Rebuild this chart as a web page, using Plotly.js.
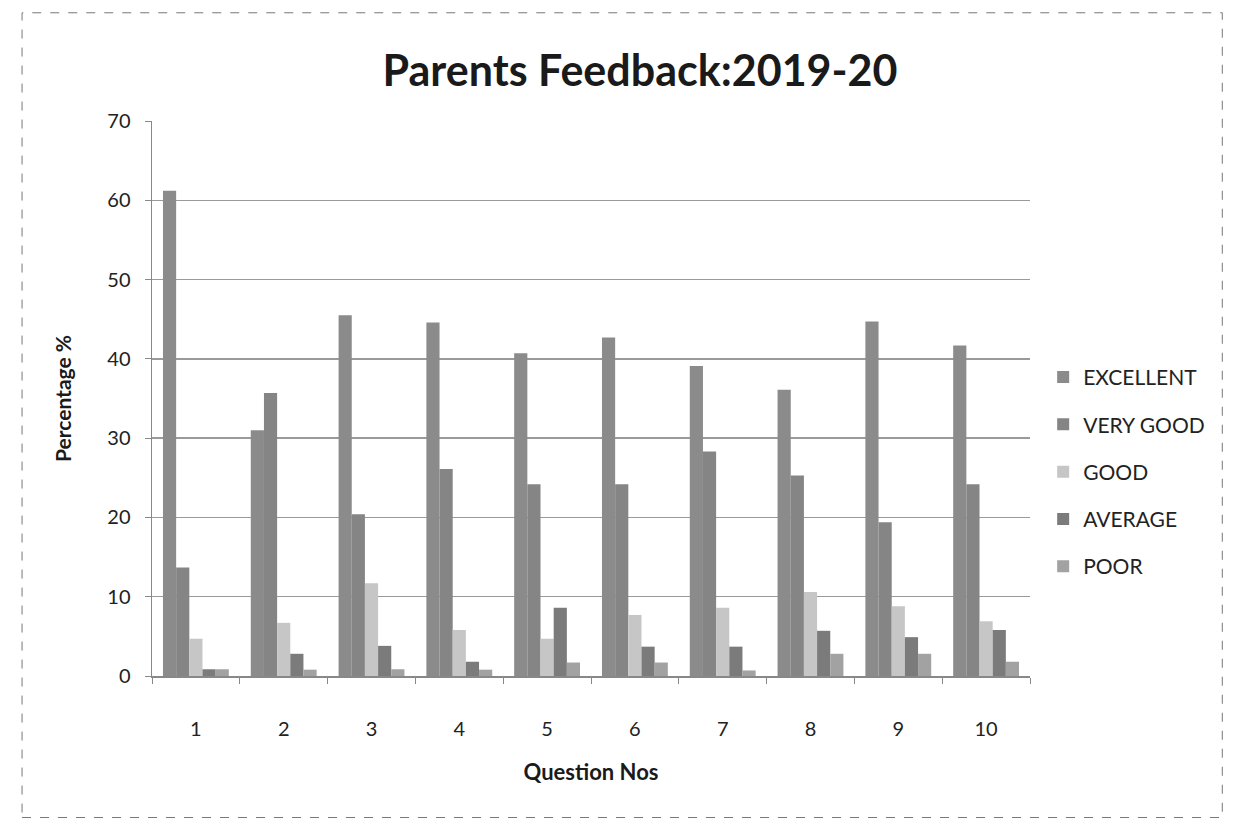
<!DOCTYPE html>
<html>
<head>
<meta charset="utf-8">
<script src="https://cdn.plot.ly/plotly-3.0.1.min.js"></script>
<style>html,body{margin:0;padding:0;background:#fff;}#chart{width:1250px;height:834px;}</style>
</head>
<body>
<div id="chart"></div>
<script>
const questions = ['1','2','3','4','5','6','7','8','9','10'];
const seriesNames = ['EXCELLENT','VERY GOOD','GOOD','AVERAGE','POOR'];
const excellent = [61.2, 31.0, 45.5, 44.6, 40.7, 42.7, 39.1, 36.1, 44.7, 41.7];
const veryGood  = [13.7, 35.7, 20.4, 26.1, 24.2, 24.2, 28.3, 25.3, 19.4, 24.2];
const good      = [4.7, 6.7, 11.7, 5.8, 4.7, 7.7, 8.6, 10.6, 8.8, 6.9];
const average   = [0.85, 2.8, 3.8, 1.8, 8.6, 3.7, 3.7, 5.7, 4.9, 5.8];
const poor      = [0.85, 0.8, 0.85, 0.8, 1.7, 1.7, 0.7, 2.8, 2.8, 1.8];
const seriesValues = [excellent, veryGood, good, average, poor];
const colors = ['#8b8b8b', '#858585', '#c6c6c6', '#7b7b7b', '#a2a2a2'];

const font = 'Lato, "Open Sans", sans-serif';
const traces = seriesNames.map((name, i) => ({
  type: 'bar',
  name: name,
  x: questions,
  y: seriesValues[i],
  marker: {color: colors[i], line: {width: 0}},
  legendgroup: 'g' + i,
  hoverinfo: 'x+y+name'
}));

const layout = {
  width: 1250, height: 834,
  paper_bgcolor: '#ffffff', plot_bgcolor: '#ffffff',
  margin: {l: 152, r: 220, t: 121, b: 158},
  barmode: 'group', bargap: 0.25, bargroupgap: 0,
  title: {text: 'Parents Feedback:2019-20', font: {family: font, size: 43, color: '#1a1a1a', weight: 700}, x: 0.512, xanchor: 'center', y: 0.915, yanchor: 'middle'},
  xaxis: {
    type: 'category',
    title: {text: 'Question Nos', font: {family: font, size: 22, color: '#1a1a1a', weight: 700}, standoff: 26},
    tickfont: {family: font, size: 20, color: '#222'},
    ticks: 'outside', tickson: 'boundaries', ticklen: 6, tickcolor: '#888',
    ticklabelstandoff: 34,
    showline: true, linecolor: '#888', linewidth: 1.5,
    showgrid: false, zeroline: false, automargin: false
  },
  yaxis: {
    range: [0, 70], dtick: 10,
    title: {text: 'Percentage %', font: {family: font, size: 21, color: '#1a1a1a', weight: 700}, standoff: 30},
    tickfont: {family: font, size: 20, color: '#222'},
    ticks: 'outside', ticklen: 6, tickcolor: '#888', ticklabelstandoff: 10,
    showline: true, linecolor: '#888', linewidth: 1.5,
    showgrid: true, gridcolor: '#9a9a9a', gridwidth: 1.5,
    zeroline: false, automargin: false
  },
  legend: {
    x: 1.015, xanchor: 'left', y: 0.575, yanchor: 'top',
    font: {family: font, size: 21, color: '#222'},
    traceorder: 'grouped', tracegroupgap: 17,
    bgcolor: 'rgba(0,0,0,0)', itemwidth: 30
  },
  shapes: [{
    type: 'rect', xref: 'paper', yref: 'paper',
    x0: -0.148, x1: 1.219, y0: -0.255, y1: 1.195,
    line: {color: '#777', width: 1, dash: 'dash'}
  }],
  showlegend: true
};

Plotly.newPlot('chart', traces, layout, {displayModeBar: false, staticPlot: true});
</script>
</body>
</html>
